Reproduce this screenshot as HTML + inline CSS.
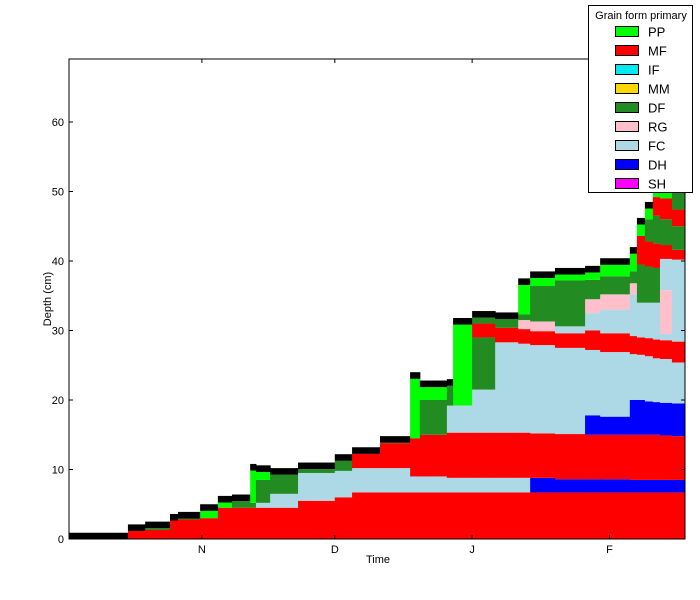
<!DOCTYPE html>
<html><head><meta charset="utf-8"><style>
body{margin:0;background:#fff;}
svg{display:block;font-family:"Liberation Sans","DejaVu Sans",sans-serif;}
</style></head><body>
<svg id="chart" width="700" height="600">
<g id="marks"></g>
<g id="axes"></g>
<g id="legend"></g>
</svg>
<script>
const colDays = [0,13.3,17.2,22.8,24.6,29.6,33.6,36.8,40.9,42.2,45.4,51.7,60,63.9,70.2,77,79.2,85.3,86.7,91,96.2,101.4,104.1,109.7,116.5,119.9,126.6,128.2,130,131.8,133.4,136.1];
const endDay = 139;
const colHeights = [0.9,2.1,2.5,3.6,3.9,5.0,6.2,6.4,10.8,10.6,10.2,11.0,12.2,13.2,14.8,24,22.8,23,31.8,32.8,32.6,37.5,38.5,39,39.3,40.4,42,46.2,48.5,52,54,54];
const colLayers = [
 [],
 ["MF:1"],
 ["MF:1.3","DF:1.7"],
 ["MF:2.4"],
 ["MF:2.8","DF:3.0"],
 ["MF:3.0","PP:3.8"],
 ["MF:4.5","PP:5.0"],
 ["MF:4.5","DF:5.1"],
 ["MF:4.5","DF:5.2","PP:9.5"],
 ["MF:4.5","FC:5.2","DF:8.5","PP:9.6"],
 ["MF:4.5","FC:6.5","DF:9.2"],
 ["MF:5.5","FC:9.5","DF:10.2"],
 ["MF:6.0","FC:9.8","DF:11.0"],
 ["MF:6.7","FC:10.2","MF:12.2"],
 ["MF:6.7","FC:10.2","MF:13.8","DF:14.0"],
 ["MF:6.7","FC:9.0","MF:14.5","PP:22.5"],
 ["MF:6.7","FC:9.0","MF:15","DF:20","PP:21.6"],
 ["MF:6.7","FC:8.8","MF:15.3","FC:19.2","DF:22"],
 ["MF:6.7","FC:8.8","MF:15.3","FC:19.2","PP:30.5"],
 ["MF:6.7","FC:8.8","MF:15.3","FC:21.5","DF:29","MF:31","DF:31.7"],
 ["MF:6.7","FC:8.8","MF:15.3","FC:28.3","MF:30.4","DF:31.6"],
 ["MF:6.7","FC:8.8","MF:15.3","FC:28.1","MF:30.2","RG:31.5","DF:32.3","PP:36"],
 ["MF:6.7","DH:8.8","MF:15.2","FC:27.9","MF:29.9","RG:31.3","DF:36.4","PP:37.5"],
 ["MF:6.7","DH:8.6","MF:15.1","FC:27.5","MF:29.6","FC:30.6","DF:37.2","PP:38.1"],
 ["MF:6.7","DH:8.6","MF:15","DH:17.8","FC:27.2","MF:30.0","FC:32.5","RG:34.5","DF:37.3","PP:38.4"],
 ["MF:6.7","DH:8.6","MF:15","DH:17.6","FC:26.9","MF:29.6","FC:33","RG:35.2","DF:37.8","PP:39.3"],
 ["MF:6.7","DH:8.5","MF:15","DH:20","FC:26.6","MF:29.2","FC:35.2","RG:36.8","DF:38.5","PP:40.5"],
 ["MF:6.7","DH:8.5","MF:15","DH:20","FC:26.5","MF:29","FC:34","DF:39.5","MF:43.6","PP:45"],
 ["MF:6.7","DH:8.5","MF:15","DH:19.8","FC:26.3","MF:28.9","FC:34","DF:39.2","MF:42.8","DF:46","PP:47.5"],
 ["MF:6.7","DH:8.5","MF:15","DH:19.7","FC:26","MF:28.7","FC:34","DF:39","MF:42.5","DF:46.5","MF:49.2","PP:51"],
 ["MF:6.7","DH:8.5","MF:14.9","DH:19.6","FC:25.9","MF:28.6","FC:29.5","RG:35.8","FC:40.3","MF:42.3","DF:46","MF:49","PP:52","DF:53"],
 ["MF:6.7","DH:8.5","MF:14.8","DH:19.5","FC:25.4","MF:28.4","FC:40.2","MF:41.6","DF:45","MF:47.4","DF:52","PP:53"]
];
const legendNames = ["PP","MF","IF","MM","DF","RG","FC","DH","SH"];
const legendColors = ["#00ff00","#ff0000","#00e8f0","#ffd700","#228b22","#ffc0cb","#add8e6","#0000ff","#ff00ff"];
const yTicks = [0,10,20,30,40,50,60];
const xTickDays = [30,60,91,122];
const xTickLabels = ["N","D","J","F"];

const NS="http://www.w3.org/2000/svg";
const X0=69,X1=685,Y0=539,Y1=59;
function xs(d){return X0+d*4.43;}
function ys(v){return Y0-v*6.95;}
function mk(tag,attrs,parent){const e=document.createElementNS(NS,tag);for(const k in attrs)e.setAttribute(k,attrs[k]);parent.appendChild(e);return e;}
const colorOf={};legendNames.forEach((n,i)=>colorOf[n]=legendColors[i]);
const marks=document.getElementById('marks');
for(let i=0;i<colDays.length;i++){
  const xa=xs(colDays[i]), xb=xs(i+1<colDays.length?colDays[i+1]:endDay);
  const h=colHeights[i];
  const crustBot=Math.max(0,h-0.95);
  let bot=0;
  const L=colLayers[i];
  L.forEach((s,j)=>{
    const [g,t]=s.split(':');let top=parseFloat(t);
    if(j===L.length-1) top=Math.max(top,crustBot);
    top=Math.min(top,crustBot);
    if(top<=bot) return;
    const r=mk('rect',{x:xa,y:ys(top),width:xb-xa+0.5,height:ys(bot)-ys(top),fill:colorOf[g]},marks);
    
    
    bot=top;
  });
  const c=mk('rect',{x:xa,y:ys(h),width:xb-xa+0.5,height:ys(bot)-ys(h),fill:'#000'},marks);
  
  
}
const axes=document.getElementById('axes');
const fr=mk('rect',{x:X0,y:Y1,width:X1-X0,height:Y0-Y1,fill:'none',stroke:'#000','stroke-width':1},axes);


yTicks.forEach(v=>{
  const y=ys(v);
  mk('line',{x1:X0,x2:X0+4,y1:y,y2:y,stroke:'#000'},axes);
  mk('line',{x1:X1,x2:X1-4,y1:y,y2:y,stroke:'#000'},axes);
  const t=mk('text',{x:X0-5,y:y+4,'text-anchor':'end','font-size':11},axes);
  t.textContent=v;
  
  
});
xTickDays.forEach((d,i)=>{
  const x=xs(d);
  mk('line',{x1:x,x2:x,y1:Y0,y2:Y0-4,stroke:'#000'},axes);
  mk('line',{x1:x,x2:x,y1:Y1,y2:Y1+4,stroke:'#000'},axes);
  const t=mk('text',{x:x,y:Y0+14,'text-anchor':'middle','font-size':11},axes);
  t.textContent=xTickLabels[i];
  
  
});
const xl=mk('text',{x:378,y:563,'text-anchor':'middle','font-size':11},axes);
xl.textContent='Time';


const yl=mk('text',{x:51,y:299,'text-anchor':'middle','font-size':11,transform:'rotate(-90 51 299)'},axes);
yl.textContent='Depth (cm)';


const lg=document.getElementById('legend');
const lb=mk('rect',{x:588.5,y:5.5,width:104,height:187,fill:'#fff',stroke:'#000'},lg);


const lt=mk('text',{x:641,y:19,'text-anchor':'middle','font-size':11},lg);
lt.textContent='Grain form primary';


legendNames.forEach((n,i)=>{
  const y=32+i*19;
  const g=mk('g',{},lg);
  
  
  mk('rect',{x:615.5,y:y-5.5,width:23,height:10,fill:legendColors[i],stroke:'#000'},g);
  const t=mk('text',{x:648,y:y+4.5,'font-size':13},g);
  t.textContent=n;
});
</script>
</body></html>
